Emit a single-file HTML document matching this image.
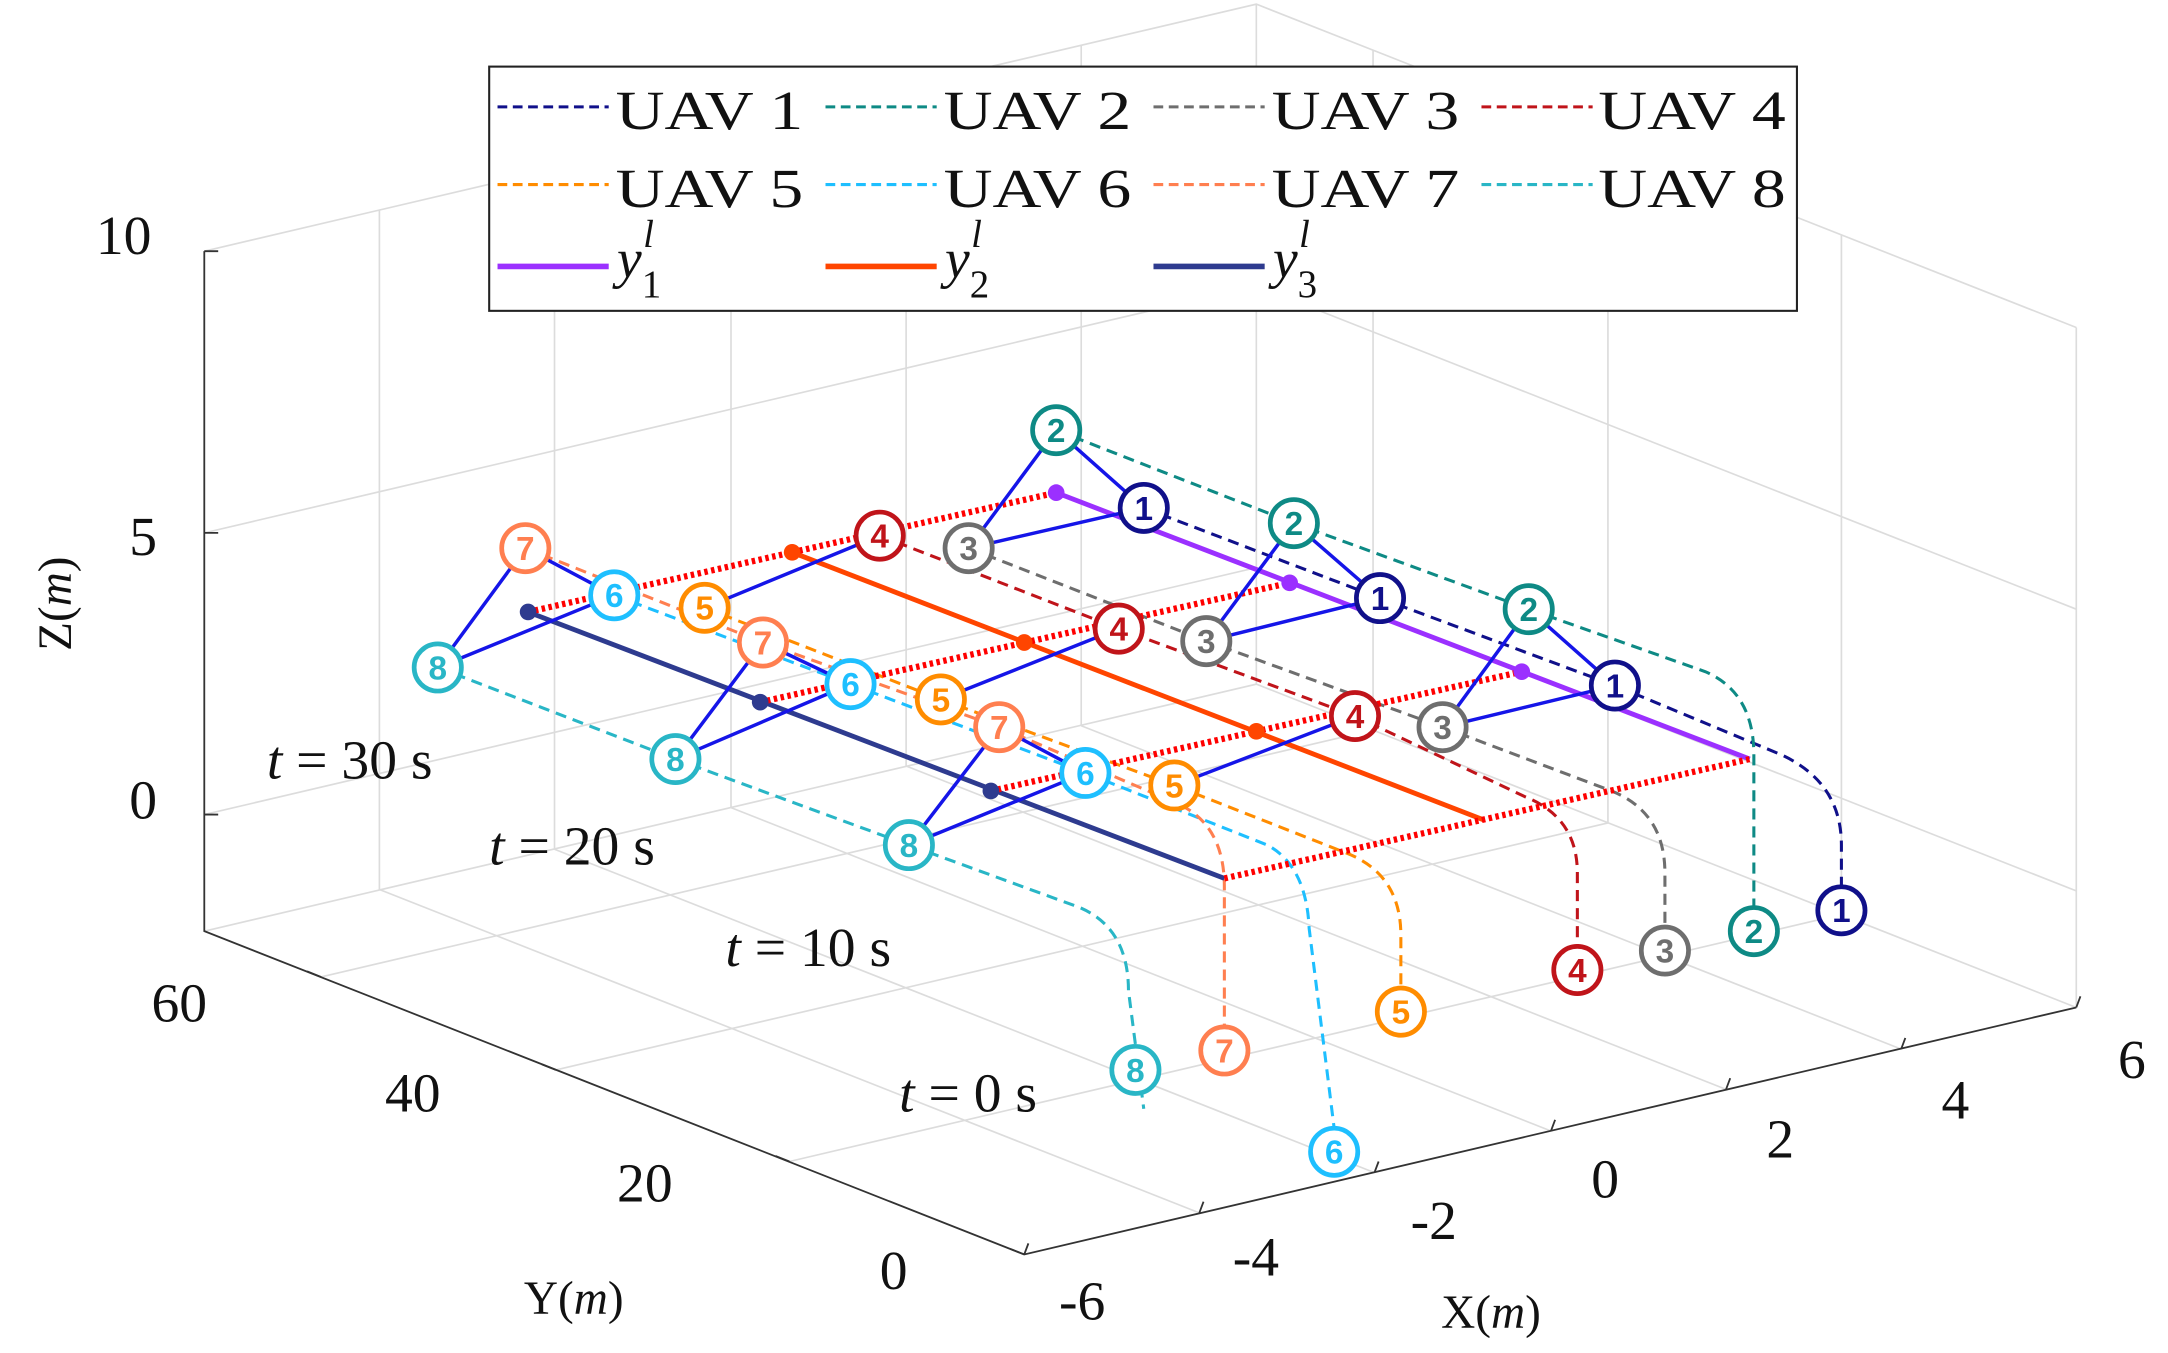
<!DOCTYPE html>
<html><head><meta charset="utf-8"><style>
html,body{margin:0;padding:0;background:#fff;}
svg{display:block;}
.t{font-family:"Liberation Serif",serif;font-size:40px;fill:#111;}
.n{font-family:"Liberation Sans",sans-serif;font-size:24px;font-weight:bold;text-anchor:middle;dominant-baseline:central;}
</style></head><body>
<svg width="2168" height="1353" viewBox="0 0 1560 975" preserveAspectRatio="none" xmlns="http://www.w3.org/2000/svg">
<rect width="1560" height="975" fill="#fff"/>
<g transform="translate(-3,-1)">
<g stroke="#dcdcdc" stroke-width="1.2" fill="none">
<path d="M866,875L276,642 M992,846L402,613 M1119,816L529,583 M1245,786L655,553 M1371,757L781,524"/>
<path d="M571,838L1328,660 M403,772L1160,594 M234,705L991,527"/>
<path d="M276,642V152 M402,613V123 M529,583V93 M655,553V63 M781,524V34"/>
<path d="M150,588L907,410L1497,643 M150,385L907,207L1497,440 M150,182L907,4L1497,237"/>
<path d="M1328,660V170 M1160,594V104 M991,527V37"/>
<path d="M150,672L907,494L1497,727 M907,494V4 M1497,727V237"/>
</g>
<g stroke="#333" stroke-width="1.3" fill="none">
<path d="M150,182V672L740,905L1497,727"/>
<path d="M150,588h10 M150,385h10 M150,182h10"/>
<path d="M740,905l-10,-4 M571,838l-10,-4 M403,772l-10,-4 M234,705l-10,-4"/>
<path d="M740,905l3,-8 M866,875l3,-8 M992,846l3,-8 M1119,816l3,-8 M1245,786l3,-8 M1371,757l3,-8 M1497,727l3,-8"/>
</g>
<g class="t">
<text x="72" y="184">10</text><text x="96" y="401">5</text><text x="96" y="591">0</text>
<text x="112" y="737">60</text><text x="280" y="802">40</text><text x="447" y="867">20</text><text x="636" y="930">0</text>
<text x="765" y="952">-6</text><text x="890" y="920">-4</text><text x="1018" y="894">-2</text><text x="1148" y="864">0</text><text x="1274" y="835">2</text><text x="1400" y="807">4</text><text x="1527" y="778">6</text>
<text x="380" y="948" font-size="34">Y(<tspan font-style="italic">m</tspan>)</text>
<text x="1040" y="958" font-size="34">X(<tspan font-style="italic">m</tspan>)</text>
<text transform="translate(54,470) rotate(-90)" font-size="34">Z(<tspan font-style="italic">m</tspan>)</text>
<text x="195" y="562"><tspan font-style="italic">t</tspan> = 30 s</text>
<text x="355" y="624"><tspan font-style="italic">t</tspan> = 20 s</text>
<text x="525" y="697"><tspan font-style="italic">t</tspan> = 10 s</text>
<text x="650" y="802"><tspan font-style="italic">t</tspan> = 0 s</text>
</g>
<g fill="none" stroke-width="2.2" stroke-dasharray="8,5">
<path stroke="#10108a" d="M826,367L996,432L1165,495L1285,545Q1328,565 1328,610V640"/>
<path stroke="#0e8a85" d="M763,311L934,378L1103,440L1230,485Q1265,500 1265,545V655"/>
<path stroke="#6e6e6e" d="M700,396L871,463L1041,525L1160,570Q1201,585 1201,630V670"/>
<path stroke="#c0141a" d="M636,387L808,454L978,517L1100,575Q1138,590 1138,630V683"/>
<path stroke="#ff8c00" d="M510,439L680,505L848,567L970,615Q1011,630 1011,675V713"/>
<path stroke="#1ebfff" d="M445,430L615,494L784,558L915,610Q943,625 945,670L963,814"/>
<path stroke="#ff7f50" d="M381,396L552,464L722,525L850,580Q884,595 884,640V741"/>
<path stroke="#29b6c6" d="M318,482L489,548L657,610L780,655Q815,670 815,715L826,800"/>
</g>
<g stroke-width="3.5" fill="none">
<path stroke="#9b30ff" d="M763,356L1262,548"/>
<path stroke="#ff4500" d="M573,399L1071,592"/>
<path stroke="#2e3b8f" d="M383,442L884,634"/>
</g>
<g stroke="#ff0000" stroke-width="4.5" stroke-dasharray="2.5,2.5" fill="none">
<path d="M383,442L763,356 M550,507L931,421 M716,571L1098,485 M884,634L1262,548"/>
</g>
<g stroke="#1515e8" stroke-width="2.5" fill="none">
<path d="M318,482L381,396 M318,482L445,430 M381,396L445,430 M510,439L636,387 M700,396L763,311 M763,311L826,367 M700,396L826,367"/>
<path d="M489,548L552,464 M489,548L615,494 M552,464L615,494 M680,505L808,454 M871,463L934,378 M934,378L996,432 M871,463L996,432"/>
<path d="M657,610L722,525 M657,610L784,558 M722,525L784,558 M848,567L978,517 M1041,525L1103,440 M1103,440L1165,495 M1041,525L1165,495"/>
</g>
<g>
<circle cx="763" cy="356" r="6" fill="#9b30ff"/><circle cx="931" cy="421" r="6" fill="#9b30ff"/><circle cx="1098" cy="485" r="6" fill="#9b30ff"/>
<circle cx="573" cy="399" r="6" fill="#ff4500"/><circle cx="740" cy="464" r="6" fill="#ff4500"/><circle cx="907" cy="528" r="6" fill="#ff4500"/>
<circle cx="383" cy="442" r="6" fill="#2e3b8f"/><circle cx="550" cy="507" r="6" fill="#2e3b8f"/><circle cx="716" cy="571" r="6" fill="#2e3b8f"/>
</g>
<g stroke-width="3.4" fill="#fff">
<g stroke="#10108a"><circle cx="826" cy="367" r="17"/><circle cx="996" cy="432" r="17"/><circle cx="1165" cy="495" r="17"/><circle cx="1328" cy="657" r="17"/></g>
<g stroke="#0e8a85"><circle cx="763" cy="311" r="17"/><circle cx="934" cy="378" r="17"/><circle cx="1103" cy="440" r="17"/><circle cx="1265" cy="672" r="17"/></g>
<g stroke="#6e6e6e"><circle cx="700" cy="396" r="17"/><circle cx="871" cy="463" r="17"/><circle cx="1041" cy="525" r="17"/><circle cx="1201" cy="686" r="17"/></g>
<g stroke="#c0141a"><circle cx="636" cy="387" r="17"/><circle cx="808" cy="454" r="17"/><circle cx="978" cy="517" r="17"/><circle cx="1138" cy="700" r="17"/></g>
<g stroke="#ff8c00"><circle cx="510" cy="439" r="17"/><circle cx="680" cy="505" r="17"/><circle cx="848" cy="567" r="17"/><circle cx="1011" cy="730" r="17"/></g>
<g stroke="#1ebfff"><circle cx="445" cy="430" r="17"/><circle cx="615" cy="494" r="17"/><circle cx="784" cy="558" r="17"/><circle cx="963" cy="831" r="17"/></g>
<g stroke="#ff7f50"><circle cx="381" cy="396" r="17"/><circle cx="552" cy="464" r="17"/><circle cx="722" cy="525" r="17"/><circle cx="884" cy="758" r="17"/></g>
<g stroke="#29b6c6"><circle cx="318" cy="482" r="17"/><circle cx="489" cy="548" r="17"/><circle cx="657" cy="610" r="17"/><circle cx="820" cy="772" r="17"/></g>
</g>
<g class="n">
<g fill="#10108a"><text x="826" y="368">1</text><text x="996" y="433">1</text><text x="1165" y="496">1</text><text x="1328" y="658">1</text></g>
<g fill="#0e8a85"><text x="763" y="312">2</text><text x="934" y="379">2</text><text x="1103" y="441">2</text><text x="1265" y="673">2</text></g>
<g fill="#6e6e6e"><text x="700" y="397">3</text><text x="871" y="464">3</text><text x="1041" y="526">3</text><text x="1201" y="687">3</text></g>
<g fill="#c0141a"><text x="636" y="388">4</text><text x="808" y="455">4</text><text x="978" y="518">4</text><text x="1138" y="701">4</text></g>
<g fill="#ff8c00"><text x="510" y="440">5</text><text x="680" y="506">5</text><text x="848" y="568">5</text><text x="1011" y="731">5</text></g>
<g fill="#1ebfff"><text x="445" y="431">6</text><text x="615" y="495">6</text><text x="784" y="559">6</text><text x="963" y="832">6</text></g>
<g fill="#ff7f50"><text x="381" y="397">7</text><text x="552" y="465">7</text><text x="722" y="526">7</text><text x="884" y="759">7</text></g>
<g fill="#29b6c6"><text x="318" y="483">8</text><text x="489" y="549">8</text><text x="657" y="611">8</text><text x="820" y="773">8</text></g>
</g>
</g>
<rect x="352" y="48" width="941" height="176" fill="#fff" stroke="#222" stroke-width="1.5"/>
<g fill="none" stroke-width="2.2" stroke-dasharray="7,4">
<path stroke="#10108a" d="M358,77h80"/><path stroke="#0e8a85" d="M594,77h80"/><path stroke="#6e6e6e" d="M830,77h80"/><path stroke="#c0141a" d="M1066,77h80"/>
<path stroke="#ff8c00" d="M358,133h80"/><path stroke="#1ebfff" d="M594,133h80"/><path stroke="#ff7f50" d="M830,133h80"/><path stroke="#29b6c6" d="M1066,133h80"/>
</g>
<g fill="none" stroke-width="4">
<path stroke="#9b30ff" d="M358,192h80"/><path stroke="#ff4500" d="M594,192h80"/><path stroke="#2e3b8f" d="M830,192h80"/>
</g>
<g class="t" font-size="44">
<text x="443" y="93" textLength="135" lengthAdjust="spacingAndGlyphs">UAV 1</text><text x="679" y="93" textLength="135" lengthAdjust="spacingAndGlyphs">UAV 2</text><text x="915" y="93" textLength="135" lengthAdjust="spacingAndGlyphs">UAV 3</text><text x="1150" y="93" textLength="135" lengthAdjust="spacingAndGlyphs">UAV 4</text>
<text x="443" y="149" textLength="135" lengthAdjust="spacingAndGlyphs">UAV 5</text><text x="679" y="149" textLength="135" lengthAdjust="spacingAndGlyphs">UAV 6</text><text x="915" y="149" textLength="135" lengthAdjust="spacingAndGlyphs">UAV 7</text><text x="1150" y="149" textLength="135" lengthAdjust="spacingAndGlyphs">UAV 8</text>
<text x="444" y="200" font-style="italic">y<tspan font-size="28" dy="14" font-style="normal">1</tspan><tspan font-size="28" dx="-13" dy="-36">l</tspan></text>
<text x="680" y="200" font-style="italic">y<tspan font-size="28" dy="14" font-style="normal">2</tspan><tspan font-size="28" dx="-13" dy="-36">l</tspan></text>
<text x="916" y="200" font-style="italic">y<tspan font-size="28" dy="14" font-style="normal">3</tspan><tspan font-size="28" dx="-13" dy="-36">l</tspan></text>
</g>
</svg>
</body></html>
